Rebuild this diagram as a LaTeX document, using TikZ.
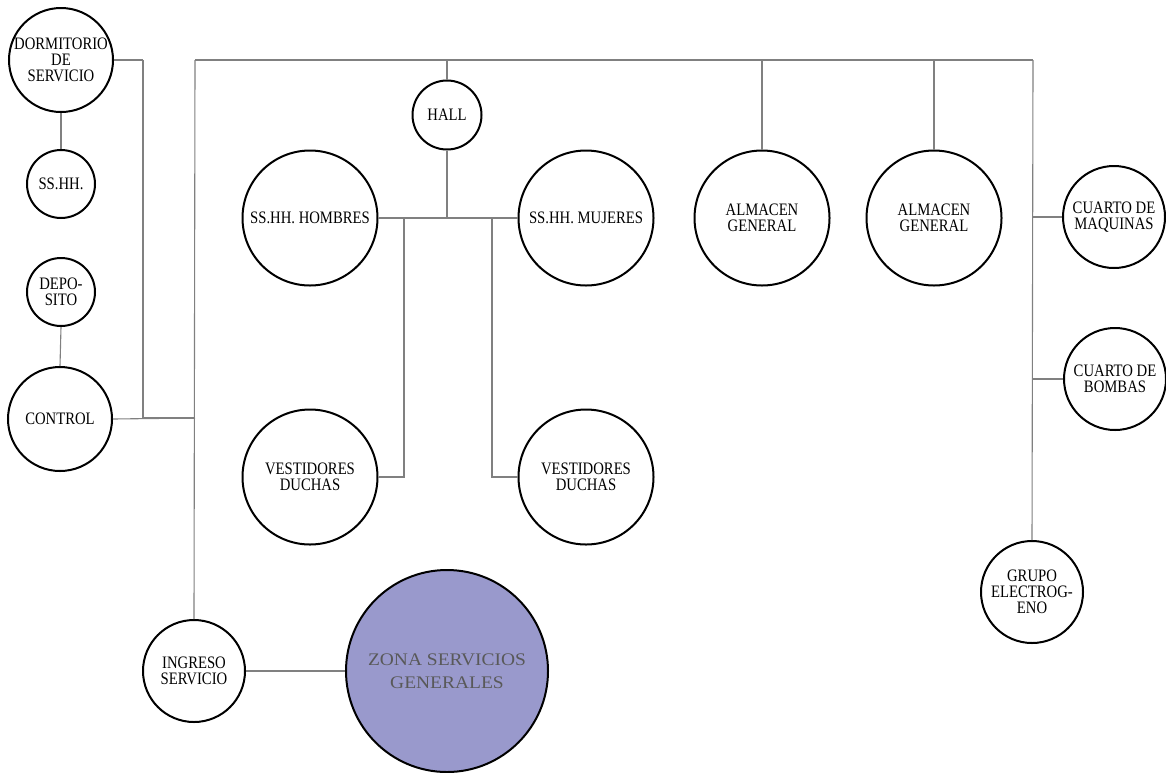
\documentclass[tikz,border=0pt]{standalone}
\usepackage{fontspec}
\setmainfont{Liberation Serif}
\newfontfamily\narrowserif[FakeStretch=0.84]{Liberation Serif}
\newfontfamily\wideserif[FakeStretch=1.1]{Liberation Serif}
\begin{document}
\begin{tikzpicture}[x=1pt,y=-1pt,
  room/.style={circle,draw=black,line width=2pt,inner sep=0pt,fill=white},
  lbl/.style={align=center,inner sep=0pt,font=\narrowserif\fontsize{17.5}{16}\selectfont},
  conn/.style={draw=black!50,line width=1.1pt}]
\useasboundingbox (0,0) rectangle (1166,772);
% coordinates of junctions
\coordinate (tl) at (195,60);
\coordinate (tr) at (1033,60);
\coordinate (lj) at (143,60);
\coordinate (lb) at (143,418);
\coordinate (cb) at (195,418);
\coordinate (hj) at (447,218);
\coordinate (vj1) at (404,218);
\coordinate (vj2) at (492,218);
% connectors
\draw[conn] (tl) -- (tr);
\draw[conn] (lj) -- (lb);
\draw[conn] (lb) -- (cb);
% rooms
\node[room,minimum size=104pt] (dorm) at (61,60) {};
\node[room,minimum size=68pt] (sshh) at (61,184) {};
\node[room,minimum size=68pt] (depo) at (61,292) {};
\node[room,minimum size=104pt] (control) at (60,419) {};
\node[room,minimum size=69pt] (hall) at (447,115) {};
\node[room,minimum size=135pt] (hom) at (310,218) {};
\node[room,minimum size=135pt] (muj) at (586,218) {};
\node[room,minimum size=135pt] (ves1) at (310,477) {};
\node[room,minimum size=135pt] (ves2) at (586,477) {};
\node[room,minimum size=135pt] (alm1) at (762,218) {};
\node[room,minimum size=135pt] (alm2) at (934,218) {};
\node[room,minimum size=102pt] (maq) at (1114,217) {};
\node[room,minimum size=102pt] (bomb) at (1115,379) {};
\node[room,minimum size=102pt] (grupo) at (1032,592) {};
\node[room,minimum size=102pt] (ingreso) at (194,671) {};
\node[room,minimum size=202pt,fill={rgb,255:red,153;green,153;blue,204}] (zona) at (447,671) {};
% connectors between rooms
\draw[conn] (dorm.south) -- (sshh.north);
\draw[conn] (depo.south) -- (control.north);
\draw[conn] (dorm.east) -- (lj);
\draw[conn] (control.east) -- (cb);
\draw[conn] (tl) -- (ingreso.north);
\draw[conn] (tr) -- (grupo.north);
\draw[conn] (hall.north) -- (hall.north|-tl);
\draw[conn] (hall.south) -- (hj);
\draw[conn] (hom.east) -- (muj.west);
\draw[conn] (vj1) |- (ves1.east);
\draw[conn] (vj2) |- (ves2.west);
\draw[conn] (alm1.north) -- (alm1.north|-tl);
\draw[conn] (alm2.north) -- (alm2.north|-tl);
\draw[conn] (maq.west) -- (maq.west-|tr);
\draw[conn] (bomb.west) -- (bomb.west-|tr);
\draw[conn] (ingreso.east) -- (zona.west);
% labels
\node[lbl] at (dorm) {DORMITORIO\\DE\\SERVICIO};
\node[lbl] at (sshh) {SS.HH.};
\node[lbl] at (depo) {DEPO-\\SITO};
\node[lbl] at (control) {CONTROL};
\node[lbl] at (hall) {HALL};
\node[lbl] at (hom) {SS.HH. HOMBRES};
\node[lbl] at (muj) {SS.HH. MUJERES};
\node[lbl] at (ves1) {VESTIDORES\\DUCHAS};
\node[lbl] at (ves2) {VESTIDORES\\DUCHAS};
\node[lbl] at (alm1) {ALMACEN\\GENERAL};
\node[lbl] at (alm2) {ALMACEN\\GENERAL};
\node[lbl] at (maq) {CUARTO DE\\MAQUINAS};
\node[lbl] at (bomb) {CUARTO DE\\BOMBAS};
\node[lbl] at (grupo) {GRUPO\\ELECTROG-\\ENO};
\node[lbl] at (ingreso) {INGRESO\\SERVICIO};
\node[lbl,font=\wideserif\fontsize{17.7}{23}\selectfont,text=black!65] at (zona) {ZONA SERVICIOS\\GENERALES};
\end{tikzpicture}
\end{document}
